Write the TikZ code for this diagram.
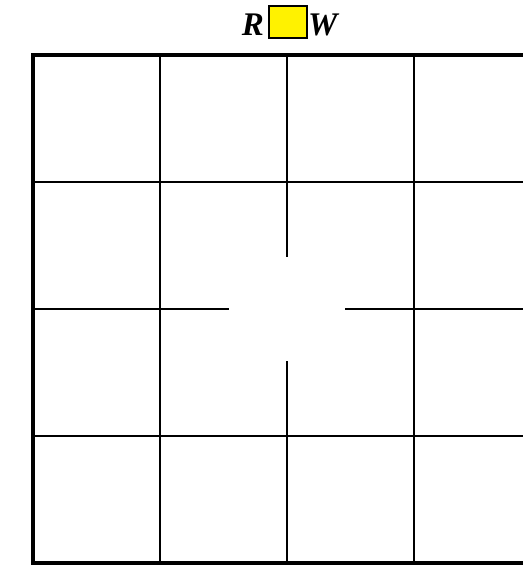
\documentclass[tikz,border=0pt]{standalone}
\usepackage{fontspec}
\setmainfont{Liberation Serif}
\usetikzlibrary{positioning}

\tikzset{
	gridline/.style={line width=2pt},
	label/.style={font=\fontsize{33}{33}\selectfont\bfseries\itshape, inner sep=0pt}
}

\begin{document}
\begin{tikzpicture}[x=1pt,y=-1pt]
		
		\useasboundingbox (0,0) rectangle (523,566);
		\clip (0,0) rectangle (523,566);
		
		\node[
		draw,
		line width=2pt,
		fill=yellow,
		minimum width=38pt,
		minimum height=32pt,
		inner sep=0pt
		]
		(box)
		at (288,22)
		{};
		
		\node[
		label,
		left=4pt of box.south west,
		anchor=base east,
		yshift=4pt
		]
		(R)
		{R};
		
		\node[
		label,
		right=0pt of box.south east,
		anchor=base west,
		yshift=4pt
		]
		(W)
		{W};
		
		\foreach \x in {160,287,414}
		{
			\draw[gridline] (\x,55) -- (\x,182);
			\draw[gridline] (\x,436) -- (\x,563);
		}
		\foreach \y in {182,309,436}
		{
			\draw[gridline] (33,\y) -- (160,\y);
			\draw[gridline] (414,\y) -- (541,\y);
		}
		
		\draw[gridline] (287,182) -- (287,257);
		\draw[gridline] (287,361) -- (287,436);
		\draw[gridline] (160,309) -- (229,309);
		\draw[gridline] (345,309) -- (414,309);
		\draw[gridline] (160,182) -- (414,182);
		\draw[gridline] (160,436) -- (414,436);
		\draw[gridline] (160,182) -- (160,436);
		\draw[gridline] (414,182) -- (414,436);
		
		\draw[line width=4pt] (33,55) rectangle (541,563);
		
	\end{tikzpicture}
\end{document}
